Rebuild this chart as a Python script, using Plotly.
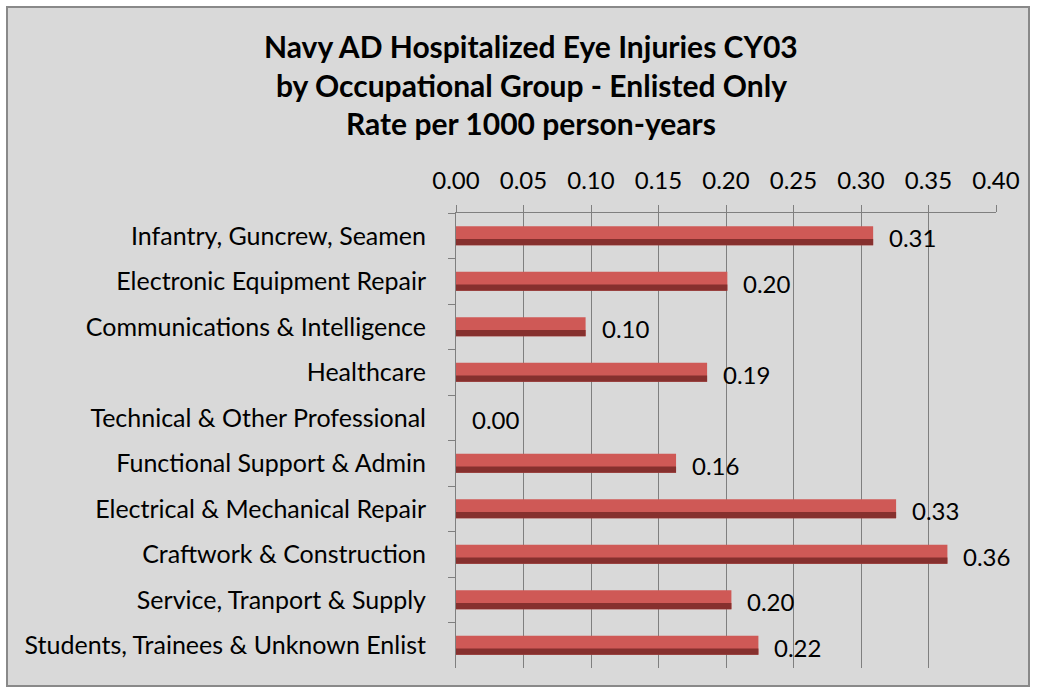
import plotly.graph_objects as go

categories = [
    "Infantry, Guncrew, Seamen",
    "Electronic Equipment Repair",
    "Communications & Intelligence",
    "Healthcare",
    "Technical & Other Professional",
    "Functional Support & Admin",
    "Electrical & Mechanical Repair",
    "Craftwork & Construction",
    "Service, Tranport & Supply",
    "Students, Trainees & Unknown Enlist",
]
rates = [0.309, 0.201, 0.096, 0.186, 0.0, 0.163, 0.326, 0.364, 0.204, 0.224]
tick_vals = [0.00, 0.05, 0.10, 0.15, 0.20, 0.25, 0.30, 0.35, 0.40]
tick_text = ["0.00", "0.05", "0.10", "0.15", "0.20", "0.25", "0.30", "0.35", "0.40"]
title_lines = [
    "Navy AD Hospitalized Eye Injuries CY03",
    "by Occupational Group - Enlisted Only",
    "Rate per 1000 person-years",
]

W, H = 1037, 694
L, R, T, B = 456, 996, 213, 668
FONT = "Lato"


def px_x(p):
    return (p - L) / (R - L)


def px_y(p):
    return (B - p) / (B - T)


fig = go.Figure()
# main bar body
fig.add_trace(go.Bar(
    y=categories, x=rates, orientation="h", width=0.42,
    marker=dict(color="#CF5956", line=dict(width=0)),
    hoverinfo="skip", showlegend=False,
))
# darker lower band to imitate bevel shading
fig.add_trace(go.Bar(
    y=categories, x=rates, orientation="h", width=0.14, offset=0.07,
    marker=dict(color="#86302E", line=dict(width=0)),
    hoverinfo="skip", showlegend=False,
))

for c, v in zip(categories, rates):
    fig.add_annotation(
        x=v, y=c, text=f"{v:.2f}", showarrow=False, xanchor="left",
        xshift=14, yshift=-2, font=dict(family=FONT, size=24, color="#000000"),
    )

title_centers = [46, 85, 123]
for line, yc in zip(title_lines, title_centers):
    fig.add_annotation(
        xref="paper", yref="paper", x=px_x(531), y=px_y(yc),
        text="<b>" + line + "</b>", showarrow=False,
        xanchor="center", yanchor="middle",
        font=dict(family=FONT, size=30, color="#000000"),
    )

fig.add_shape(
    type="rect", xref="paper", yref="paper",
    x0=px_x(7), x1=px_x(1029), y0=px_y(686), y1=px_y(7),
    fillcolor="#D9D9D9", line=dict(color="#898989", width=2), layer="below",
)

fig.update_layout(
    width=W, height=H, autosize=False,
    margin=dict(l=L, r=W - R, t=T, b=H - B),
    paper_bgcolor="#FFFFFF", plot_bgcolor="#FFFFFF",
    barmode="overlay",
    font=dict(family=FONT, size=24, color="#000000"),
    xaxis=dict(
        side="top", range=[0, 0.4], tickvals=tick_vals, ticktext=tick_text,
        showgrid=True, gridcolor="#7F7F7F", gridwidth=1,
        showline=True, linecolor="#7F7F7F", linewidth=1,
        ticks="outside", ticklen=7, tickcolor="#7F7F7F",
        zeroline=False, ticklabelstandoff=6,
        tickfont=dict(family=FONT, size=24, color="#000000"),
    ),
    yaxis=dict(
        categoryorder="array", categoryarray=categories, autorange="reversed",
        showgrid=False, showline=True, linecolor="#7F7F7F", linewidth=1,
        ticks="outside", ticklen=7, tickcolor="#7F7F7F", tickson="boundaries",
        ticklabelstandoff=24,
        tickfont=dict(family=FONT, size=25, color="#000000"),
    ),
)

fig.write_html(
    "out.html",
    config={"displayModeBar": False},
    post_script="document.body.style.margin='0px';",
)
